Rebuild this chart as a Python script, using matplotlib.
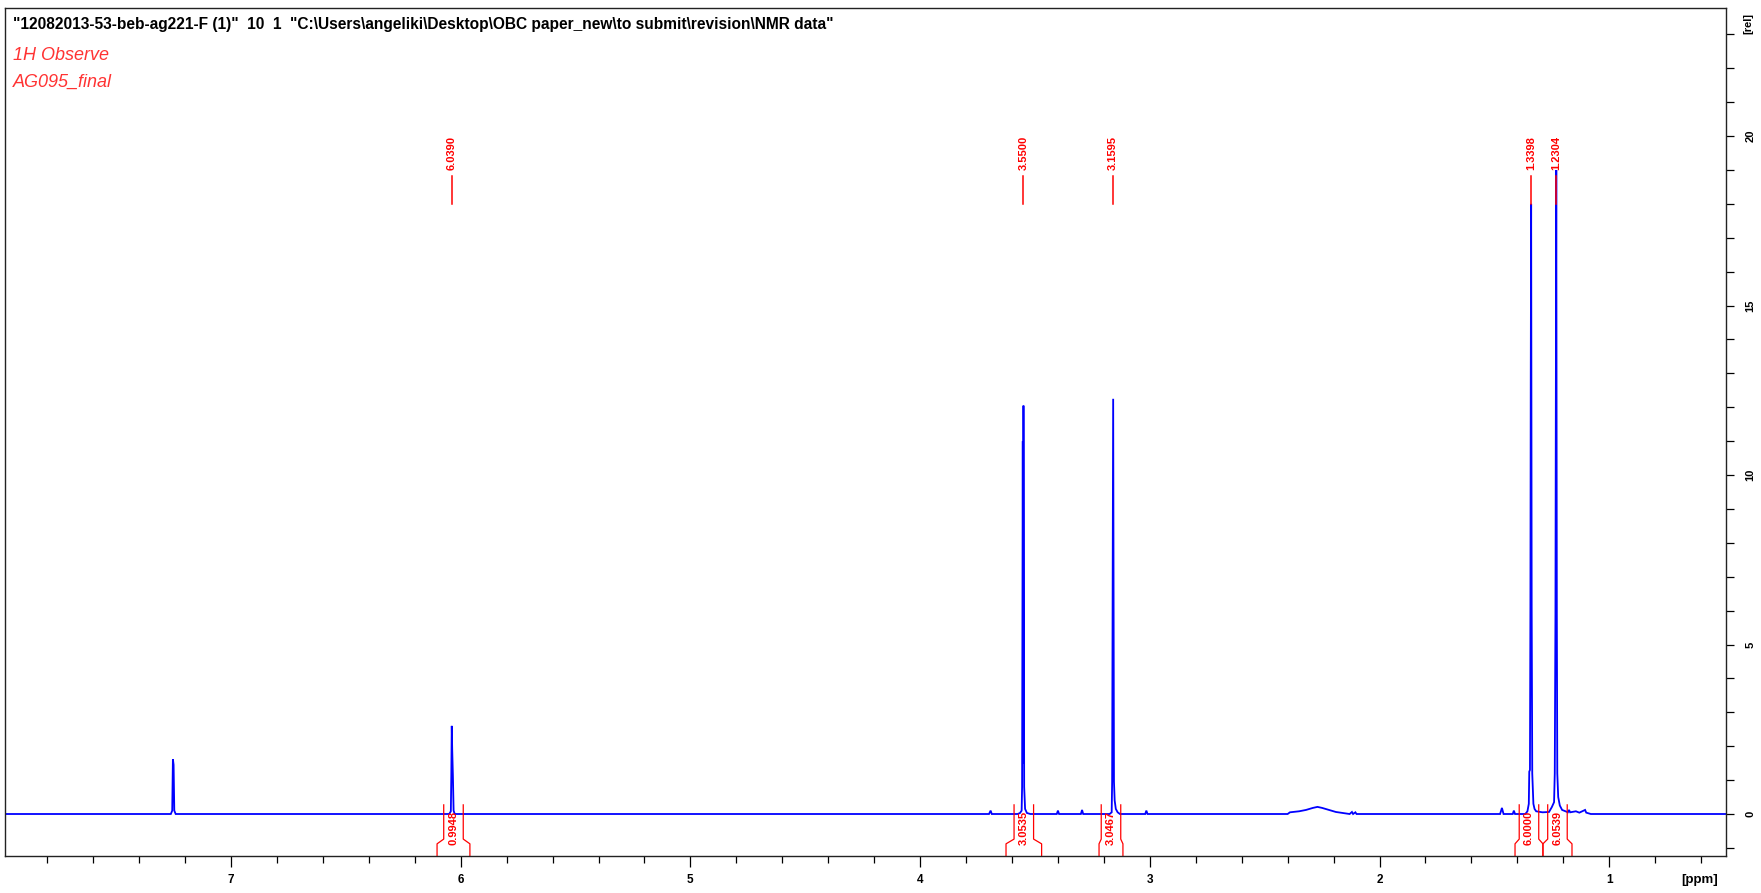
import matplotlib
matplotlib.use("Agg")
import matplotlib.pyplot as plt
from matplotlib.ticker import MultipleLocator, FixedLocator

# 1H spectrum trace, chemical shift (ppm) and relative intensity, left to right
shift_ppm = [
    7.984, 7.262, 7.256, 7.253, 7.250, 7.247, 7.241,
    6.050, 6.043, 6.041, 6.039, 6.037, 6.034, 6.031, 6.026,
    3.700, 3.693, 3.688,
    3.575, 3.565, 3.558, 3.556, 3.553, 3.551, 3.550, 3.547, 3.543, 3.535, 3.520,
    3.405, 3.400, 3.395, 3.300, 3.295, 3.290,
    3.175, 3.166, 3.164, 3.1595, 3.156, 3.153, 3.148, 3.140, 3.130,
    3.020, 3.015, 3.010,
    2.400, 2.390, 2.350, 2.320, 2.290, 2.270, 2.250, 2.220, 2.190, 2.160, 2.130,
    2.120, 2.115, 2.105, 2.100,
    1.475, 1.467, 1.460, 1.420, 1.415, 1.410,
    1.365, 1.356, 1.350, 1.348, 1.345, 1.343, 1.3415, 1.3398, 1.3375, 1.335, 1.330,
    1.325, 1.318, 1.300, 1.290, 1.262,
    1.250, 1.240, 1.237, 1.234, 1.232, 1.2304, 1.228, 1.226, 1.222, 1.215, 1.205,
    1.190, 1.180, 1.175, 1.170, 1.145, 1.130, 1.105, 1.100, 1.080, 0.490,
]
intensity = [
    0.0, 0.0, 0.10, 1.62, 1.45, 0.10, 0.0,
    0.0, 0.08, 1.12, 2.60, 1.89, 1.12, 0.10, 0.0,
    0.0, 0.10, 0.0,
    0.0, 0.03, 0.10, 0.80, 11.0, 1.50, 12.05, 0.80, 0.15, 0.03, 0.0,
    0.0, 0.10, 0.0, 0.0, 0.12, 0.0,
    0.0, 0.05, 0.95, 12.25, 0.95, 0.40, 0.15, 0.05, 0.0,
    0.0, 0.10, 0.0,
    0.0, 0.05, 0.08, 0.12, 0.18, 0.21, 0.18, 0.12, 0.06, 0.03, 0.0,
    0.06, 0.0, 0.05, 0.0,
    0.0, 0.18, 0.0, 0.0, 0.10, 0.0,
    0.0, 0.08, 0.30, 1.25, 1.30, 6.10, 12.9, 18.0, 6.10, 1.20, 0.30,
    0.15, 0.08, 0.06, 0.05, 0.06,
    0.20, 0.35, 1.20, 5.90, 13.3, 19.0, 5.90, 1.20, 0.50, 0.25, 0.12,
    0.08, 0.05, 0.12, 0.05, 0.08, 0.04, 0.12, 0.04, 0.0, 0.0,
]

# picked peaks
peak_ppm = [6.0390, 3.5500, 3.1595, 1.3398, 1.2304]
peak_labels = ["6.0390", "3.5500", "3.1595", "1.3398", "1.2304"]

# integration regions (left, right limits in ppm) and integral values
integ_left = [6.103, 3.626, 3.221, 1.410, 1.2885]
integ_right = [5.960, 3.471, 3.117, 1.2885, 1.162]
integ_labels = ["0.9948", "3.0535", "3.0467", "6.0000", "6.0539"]

x_major = [7, 6, 5, 4, 3, 2, 1]
y_major = [0, 5, 10, 15, 20]

XLIM = (7.984, 0.4915)
YLIM = (-1.239, 23.78)
RED = "#ff0000"
LABEL_FONT = dict(family="Liberation Sans", fontweight="bold", fontsize=8,
                  color=RED, rotation=90, ha="center")

fig = plt.figure(figsize=(17.61, 8.93), dpi=100)
ax = fig.add_axes([5 / 1761, 1 - 856 / 893, 1721 / 1761, 848 / 893])
ax.set_xlim(*XLIM)
ax.set_ylim(*YLIM)

ax.plot(shift_ppm, intensity, color="#0000ff", lw=1.3, solid_joinstyle="miter")

# peak pick markers
for p, lab in zip(peak_ppm, peak_labels):
    ax.plot([p, p], [18.0, 18.82], color=RED, lw=1.1)
    ax.text(p, 19.0, lab, va="bottom", **LABEL_FONT)

# integral brackets under the baseline
neck = 0.0425
for l, r, lab in zip(integ_left, integ_right, integ_labels):
    c = (l + r) / 2
    nl = min(l, c + neck)
    nr = max(r, c - neck)
    ax.plot([nl, nl, l, l], [0.27, -0.74, -0.88, YLIM[0]], color=RED, lw=0.9,
            clip_on=False)
    ax.plot([nr, nr, r, r], [0.27, -0.74, -0.88, YLIM[0]], color=RED, lw=0.9,
            clip_on=False)
    ax.text(c, -0.40, lab, va="center", **LABEL_FONT)

# axes styling
for s in ax.spines.values():
    s.set_linewidth(1.0)
    s.set_color("#222222")

ax.xaxis.set_major_locator(FixedLocator(x_major))
ax.xaxis.set_minor_locator(MultipleLocator(0.2))
ax.set_xticklabels([str(v) for v in x_major], fontsize=8.5, fontweight="bold",
                   family="Liberation Sans")
ax.tick_params(axis="x", which="major", direction="out", length=8, width=0.9, pad=5)
ax.tick_params(axis="x", which="minor", direction="out", length=5, width=0.9)

ax.yaxis.tick_right()
ax.yaxis.set_major_locator(FixedLocator(y_major))
ax.yaxis.set_minor_locator(MultipleLocator(1))
ax.set_yticklabels([str(v) for v in y_major], fontsize=8, fontweight="bold",
                   family="Liberation Sans", rotation=90, va="center")
ax.tick_params(axis="y", which="both", direction="out", length=6, width=0.9, pad=8)

ax.text(0.605, -1.95, "[ppm]", ha="center", va="center", fontsize=9.5,
        fontweight="bold", family="Liberation Sans", clip_on=False)
ax.text(1.0128, 23.33, "[rel]", transform=ax.get_yaxis_transform(), ha="center",
        va="center", rotation=90, fontsize=8, fontweight="bold",
        family="Liberation Sans", clip_on=False)

# header lines
fig.text(13 / 1761, 1 - 25 / 893,
         r'"12082013-53-beb-ag221-F (1)"  10  1  "C:\Users\angeliki\Desktop\OBC paper_new\to submit\revision\NMR data"',
         ha="left", va="center", fontsize=11.2, fontweight="bold",
         family="Liberation Sans")
fig.text(13 / 1761, 1 - 56 / 893, "1H Observe", ha="left", va="center",
         fontsize=13, style="italic", color="#ff3333", family="Liberation Sans")
fig.text(13 / 1761, 1 - 82 / 893, "AG095_final", ha="left", va="center",
         fontsize=13, style="italic", color="#ff3333", family="Liberation Sans")

fig.savefig("out.png", dpi=100)
